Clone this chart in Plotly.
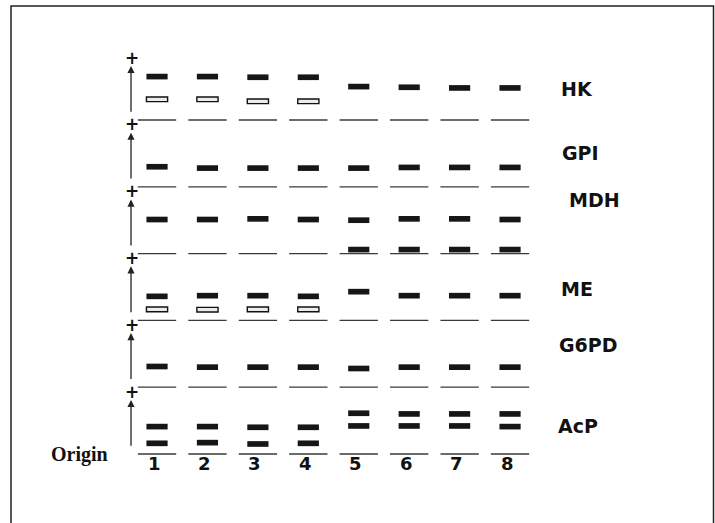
import plotly.graph_objects as go

# ---------------- data ----------------
lanes = [1, 2, 3, 4, 5, 6, 7, 8]
lane_labels = ["1", "2", "3", "4", "5", "6", "7", "8"]
enzymes = ["HK", "GPI", "MDH", "ME", "G6PD", "AcP"]

# relative mobility of each band (distance from origin, panel units); None = no band
hk_dark = [0.65, 0.65, 0.64, 0.64, 0.50, 0.49, 0.48, 0.48]
hk_open = [0.31, 0.31, 0.28, 0.28, None, None, None, None]
gpi_dark = [0.30, 0.28, 0.28, 0.28, 0.28, 0.29, 0.29, 0.29]
mdh_fast = [0.51, 0.51, 0.52, 0.51, 0.50, 0.52, 0.52, 0.51]
mdh_slow = [None, None, None, None, 0.06, 0.06, 0.06, 0.06]
me_dark = [0.36, 0.37, 0.37, 0.36, 0.43, 0.37, 0.37, 0.37]
me_open = [0.165, 0.16, 0.165, 0.165, None, None, None, None]
g6pd_dark = [0.31, 0.30, 0.30, 0.30, 0.28, 0.30, 0.30, 0.30]
acp_fast = [0.41, 0.41, 0.40, 0.40, 0.61, 0.60, 0.60, 0.60]
acp_slow = [0.16, 0.17, 0.15, 0.16, 0.42, 0.42, 0.42, 0.41]

dark_bands = {"HK": [hk_dark], "GPI": [gpi_dark], "MDH": [mdh_fast, mdh_slow],
              "ME": [me_dark], "G6PD": [g6pd_dark], "AcP": [acp_fast, acp_slow]}
open_bands = {"HK": [hk_open], "ME": [me_open]}

# ---------------- layout helpers ----------------
PX_X = 50.43       # pixels per lane
X0 = 106.6         # pixel of lane 0
PX_Y = 66.8        # pixels per panel
Y0 = 120.0         # pixel of first baseline
W, H = 715, 523

band_w = 0.42
band_h = 0.085
open_h = 0.07
seg_half = 0.38
arrow_x = 0.484
plus_x = 0.50

fig = go.Figure()

# bands as bars (base = band bottom)
for kind, table, color, lw, hh in [("dark", dark_bands, "#161616", 0, band_h),
                                   ("open", open_bands, "#ececec", 1.4, open_h)]:
    xs, bases, hs = [], [], []
    for k, enz in enumerate(enzymes):
        for series in table.get(enz, []):
            for lane, m in zip(lanes, series):
                if m is None:
                    continue
                xs.append(lane)
                bases.append(-k + m - hh / 2)
                hs.append(hh)
    fig.add_trace(go.Bar(x=xs, y=hs, base=bases, width=band_w,
                         marker=dict(color=color, line=dict(color="#111", width=lw)),
                         showlegend=False, hoverinfo="skip"))

# origin line segments under each lane
sx, sy = [], []
for k, enz in enumerate(enzymes):
    for lane in lanes:
        sx += [lane - seg_half, lane + seg_half, None]
        sy += [-k, -k, None]
fig.add_trace(go.Scatter(x=sx, y=sy, mode="lines", line=dict(color="#3a3a3a", width=1.3),
                         showlegend=False, hoverinfo="skip"))

annotations = []
for k, enz in enumerate(enzymes):
    # migration arrow
    annotations.append(dict(x=arrow_x, y=-k + 0.81, ax=arrow_x, ay=-k + 0.1,
                            xref="x", yref="y", axref="x", ayref="y", text="",
                            showarrow=True, arrowhead=2, arrowsize=1.1, arrowwidth=1.3,
                            arrowcolor="#222"))
    annotations.append(dict(x=plus_x, y=-k + 0.935, xref="x", yref="y", text="<b>+</b>",
                            showarrow=False, font=dict(size=17, color="#111", family="DejaVu Sans")))

label_pos = {"HK": (9.33, 0.47), "GPI": (9.39, 0.51), "MDH": (9.68, 0.80),
             "ME": (9.33, 0.47), "G6PD": (9.55, 0.63), "AcP": (9.35, 0.42)}
for k, enz in enumerate(enzymes):
    lx, ly = label_pos[enz]
    annotations.append(dict(x=lx, y=-k + ly, xref="x", yref="y", text=f"<b>{enz}</b>",
                            showarrow=False,
                            font=dict(size=19, color="#111", family="DejaVu Sans")))

for lane, lab in zip(lanes, lane_labels):
    annotations.append(dict(x=lane - 0.06, y=-5.14, xref="x", yref="y", text=f"<b>{lab}</b>",
                            showarrow=False,
                            font=dict(size=18, color="#111", family="DejaVu Sans")))

annotations.append(dict(x=-0.53, y=-5.01, xref="x", yref="y", text="<b>Origin</b>",
                        showarrow=False,
                        font=dict(size=20, color="#111", family="Liberation Serif")))

fig.update_layout(
    width=W, height=H, margin=dict(l=0, r=0, t=0, b=0),
    paper_bgcolor="white", plot_bgcolor="white", barmode="overlay",
    xaxis=dict(range=[(0 - X0) / PX_X, (W - X0) / PX_X], visible=False, fixedrange=True),
    yaxis=dict(range=[(Y0 - H) / PX_Y, Y0 / PX_Y], visible=False, fixedrange=True),
    annotations=annotations,
    shapes=[dict(type="rect", xref="paper", yref="paper",
                 x0=11 / W, x1=(W - 1.5) / W, y0=-0.02, y1=1 - 6 / H,
                 line=dict(color="#222", width=1.5), fillcolor="rgba(0,0,0,0)")],
)

fig.write_html("out.html", config={"displayModeBar": False},
               post_script="document.body.style.margin='0';document.body.style.overflow='hidden';")
